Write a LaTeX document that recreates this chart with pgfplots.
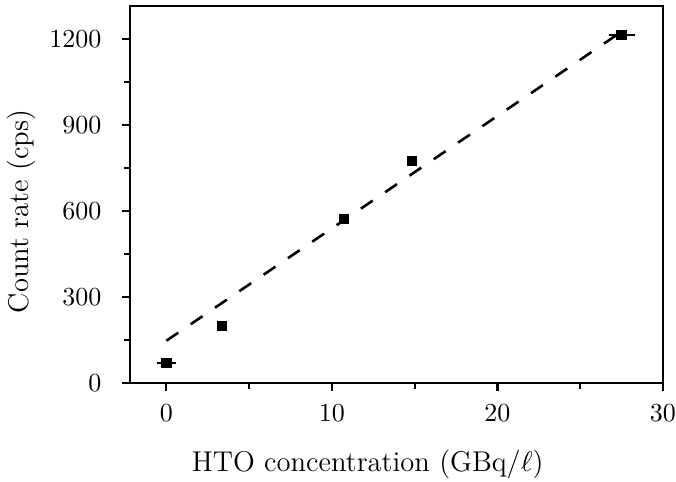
\documentclass[border=0pt]{standalone}
\usepackage{pgfplots}
\pgfplotsset{compat=1.18}
\begin{document}
\begin{tikzpicture}
\begin{axis}[
  scale only axis, width=205pt, height=145pt,
  xmin=-2.2, xmax=30, ymin=0, ymax=1315,
  xtick={0,10,20,30}, ytick={0,300,600,900,1200},
  minor xtick={5,15,25}, minor ytick={150,450,750,1050},
  /pgf/number format/1000 sep={},
  tick align=outside, xtick pos=left, ytick pos=left,
  major tick length=3pt, minor tick length=2.2pt,
  axis line style={line width=0.8pt},
  every tick/.style={line width=0.8pt, black},
  yticklabel shift=4.5pt, xticklabel shift=1.7pt,
  label style={font=\fontsize{11}{13}\selectfont},
  xlabel style={at={(ticklabel cs:0.446,4.3pt)}},
  ylabel style={at={(ticklabel cs:0.455,-1.8pt)}},
  xlabel={HTO concentration (GBq/$\ell$)},
  ylabel={Count rate (cps)},
]
\addplot[black, line width=1pt, dash pattern=on 5.5pt off 5.8pt] coordinates {(0,147.5) (27.5,1225.5)};
\addplot[only marks, mark=square*, mark size=1.8pt, black,
  error bars/.cd, x dir=both, x explicit,
  error bar style={line width=0.8pt},
  error mark options={mark size=1.7pt, line width=0.8pt}]
  table[x=x, y=y, x error=ex] {
x y ex
0 69 0.3
3.35 198 0
10.74 572 0
14.83 775 0
27.5 1213 0.52
};
\end{axis}
\pgfresetboundingbox
\path ([shift={(-50pt,-37.7pt)}]current axis.south west) rectangle ([shift={(5pt,2.3pt)}]current axis.north east);
\end{tikzpicture}
\end{document}
